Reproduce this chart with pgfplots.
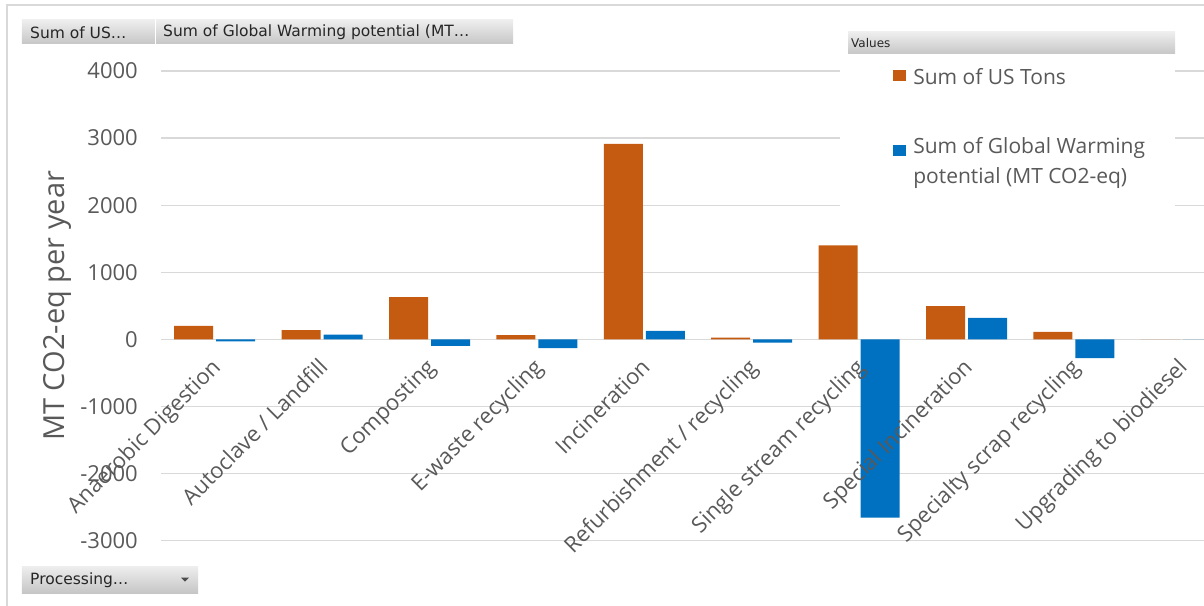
\documentclass[border=0pt]{standalone}
\usepackage{pgfplots}
\pgfplotsset{compat=1.18}
\usepackage{fontspec}
\setmainfont{Open Sans}
\newfontfamily\uifont{DejaVu Sans}
\definecolor{tonsorange}{HTML}{C55A11}
\definecolor{gwpblue}{HTML}{0070C0}
\definecolor{gridgray}{HTML}{D9D9D9}
\definecolor{textgray}{HTML}{595959}
\definecolor{btntop}{HTML}{EEEEEE}
\definecolor{btnbot}{HTML}{C6C6C6}
\pgfplotsset{
  % square legend swatches
  swatchA/.style={legend image code/.code={\fill[##1] (0pt,-4.5pt) rectangle (13pt,6.5pt);}},
  swatchB/.style={legend image code/.code={\fill[##1] (0pt,-11.5pt) rectangle (13pt,-0.5pt);}},
  % shared frame of the plot area
  chartframe/.style={
    at={(0pt,0pt)}, anchor=south west,
    scale only axis, width=1074pt, height=469.7pt,
    xmin=-0.5, xmax=9.5, ymin=-3000, ymax=4000,
    axis line style={draw=none}, major tick length=0pt, clip=false,
    ticklabel style={font=\fontsize{22}{26}\selectfont, text=textgray},
  },
}

\begin{document}
\begin{tikzpicture}
\useasboundingbox (-161pt,-64.3pt) rectangle (1043pt,540.7pt);
\clip (-161pt,-64.3pt) rectangle (1043pt,540.7pt);
\begin{axis}[
  chartframe,
  ybar=3pt, bar width=39pt,
  xtick={0,...,9}, xticklabels={},
  ytick={-3000,-2000,...,4000},
  ymajorgrids, grid style={gridgray, line width=1.3pt},
  /pgf/number format/1000 sep={},
  /pgf/number format/assume math mode=true,
  yticklabel style={anchor=east, inner sep=0pt, xshift=-23pt},
  ylabel={MT CO2-eq per year},
  every axis y label/.style={at={(axis description cs:-0.0968,0.5)}, rotate=90, anchor=center,
    font=\fontsize{29}{34}\selectfont, text=textgray},
  legend cell align=left,
  legend style={at={(axis description cs:0.6816,1.0064)}, anchor=north west,
    draw=none, fill=none, inner sep=0pt, column sep=7pt, row sep=47pt,
    font=\fontsize{21}{30}\selectfont, text=textgray,
    nodes={inner sep=0pt}},
]
% white panel behind the legend
\fill[white] (axis description cs:0.6322,1.034) rectangle (axis description cs:0.9441,0.6995);

\addplot[fill=tonsorange, draw=none, swatchA]
  coordinates {(0,200) (1,140) (2,630) (3,65) (4,2915) (5,25) (6,1400) (7,497) (8,113) (9,0)};
\addlegendentry{Sum of US Tons}

\addplot[fill=gwpblue, draw=none, swatchB]
  coordinates {(0,-30) (1,72) (2,-95) (3,-131) (4,127) (5,-48) (6,-2655) (7,319) (8,-280) (9,0)};
\addlegendentry{\begin{tabular}[t]{@{}l@{}}Sum of Global Warming\\potential (MT CO2-eq)\end{tabular}}
\end{axis}

% category labels, set above the bars
\begin{axis}[
  chartframe,
  ytick=\empty,
  xtick={0,...,9},
  xticklabels={Anaerobic Digestion, Autoclave / Landfill, Composting, E-waste recycling, Incineration, Refurbishment / recycling, Single stream recycling, Special Incineration, Specialty scrap recycling, Upgrading to biodiesel},
  xticklabel style={xshift=7pt, yshift=172pt, rotate=45, anchor=base east, inner sep=0pt},
]
\end{axis}

% pivot chart frame and field buttons
\begin{scope}[x=1pt, y=-1pt, shift={(-161pt,540.7pt)}]
  \draw[gridgray, line width=2pt] (7,610) -- (7,5) -- (1210,5);
  \shade[top color=btntop, bottom color=btnbot] (22,20) rectangle (155,44);
  \shade[top color=btntop, bottom color=btnbot] (156,20) rectangle (513,44);
  \draw[white, line width=1pt] (155.5,20) -- (155.5,44);
  \node[anchor=west, inner sep=0pt, font=\uifont\fontsize{15.5}{18}\selectfont, text=black!85] at (30,32.5) {Sum of US…};
  \node[anchor=west, inner sep=0pt, font=\uifont\fontsize{15.5}{18}\selectfont, text=black!85] at (163,32.5) {Sum of Global Warming potential (MT…};
  \shade[top color=btntop, bottom color=btnbot] (848,32) rectangle (1175,54);
  \node[anchor=west, inner sep=0pt, font=\uifont\fontsize{12}{14}\selectfont, text=black!85] at (851,43) {Values};
  \shade[top color=btntop, bottom color=btnbot] (22,566) rectangle (198,593);
  \node[anchor=west, inner sep=0pt, font=\uifont\fontsize{15.5}{18}\selectfont, text=black!85] at (30,580) {Processing…};
  \fill[black!70] (181,577.5) -- (189,577.5) -- (185,581.5) -- cycle;
\end{scope}
\end{tikzpicture}
\end{document}
